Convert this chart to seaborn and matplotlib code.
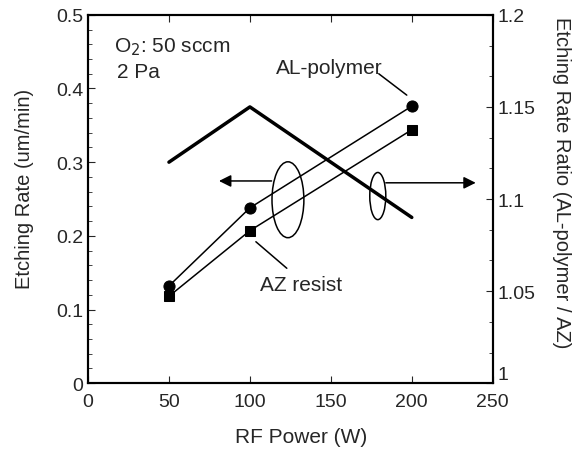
import numpy as np
import pandas as pd
import seaborn as sns
import matplotlib.pyplot as plt
from matplotlib.patches import Ellipse
from matplotlib.ticker import MultipleLocator

# data
power = [50, 100, 200]
al_polymer = [0.132, 0.238, 0.376]
az_resist = [0.118, 0.207, 0.344]
ratio = [1.12, 1.15, 1.09]

sns.set_style("ticks")
plt.rcParams['font.family'] = ['Liberation Sans', 'DejaVu Sans']

fig = plt.figure(figsize=(5.79, 4.52), dpi=100)
ax = fig.add_axes([0.152, 0.150, 0.699, 0.815])

sns.lineplot(x=power, y=al_polymer, marker='o', markersize=8, color='black',
             linewidth=1.1, markeredgecolor='black', ax=ax)
sns.lineplot(x=power, y=az_resist, marker='s', markersize=6.5, color='black',
             linewidth=1.1, markeredgecolor='black', ax=ax)

ax.set_xlim(0, 250)
ax.set_ylim(0, 0.5)
ax.xaxis.set_major_locator(MultipleLocator(50))
ax.yaxis.set_minor_locator(MultipleLocator(0.02))
ax.set_yticks([0, 0.1, 0.2, 0.3, 0.4, 0.5])
ax.set_yticklabels(['0', '0.1', '0.2', '0.3', '0.4', '0.5'])
ax.tick_params(axis='both', which='both', direction='in', labelsize=14)
ax.tick_params(axis='x', top=True, length=5, pad=7)
ax.tick_params(axis='y', which='major', length=5)
ax.tick_params(axis='y', which='minor', length=3)
ax.set_xlabel('RF Power (W)', fontsize=15, ha='center', va='center')
ax.xaxis.set_label_coords(0.526, -0.144)
ax.set_ylabel('Etching Rate (um/min)', fontsize=14.5, ha='center', va='center')
ax.yaxis.set_label_coords(-0.156, 0.53)
for s in ax.spines.values():
    s.set_linewidth(1.5)
    s.set_color('black')

ax2 = ax.twinx()
sns.lineplot(x=power, y=ratio, color='black', linewidth=2.5, ax=ax2)
ax2.set_ylim(1.0, 1.2)
ax2.set_yticks([1.0, 1.05, 1.1, 1.15, 1.2])
labels2 = ax2.set_yticklabels(['1', '1.05', '1.1', '1.15', '1.2'])
labels2[0].set_va('bottom')
ax2.yaxis.set_minor_locator(MultipleLocator(0.05 / 3))
ax2.tick_params(axis='y', which='both', direction='in', labelsize=14)
ax2.tick_params(axis='y', which='major', length=5)
ax2.tick_params(axis='y', which='minor', length=3)
ax2.set_ylabel('Etching Rate Ratio (AL-polymer / AZ)', fontsize=14.5,
               rotation=-90, ha='center', va='center')
ax2.yaxis.set_label_coords(1.17, 0.546)
for s in ax2.spines.values():
    s.set_linewidth(1.5)
    s.set_color('black')

# annotations
ax.text(16, 0.458, 'O$_2$: 50 sccm', fontsize=15, va='center')
ax.text(18, 0.4226, '2 Pa', fontsize=15, va='center')
ax.text(116, 0.429, 'AL-polymer', fontsize=15, va='center')
ax.plot([179.6, 196.9], [0.420, 0.391], color='black', linewidth=1.1)
ax.text(106, 0.134, 'AZ resist', fontsize=15, va='center')
ax.plot([103.7, 122.8], [0.192, 0.156], color='black', linewidth=1.1)

ax.add_patch(Ellipse((123.5, 0.249), 19.7, 0.103, fill=False,
                     edgecolor='black', linewidth=1.1))
ax.add_patch(Ellipse((179.0, 0.254), 9.9, 0.064, fill=False,
                     edgecolor='black', linewidth=1.1))
ax.annotate('', xy=(80.9, 0.2745), xytext=(113.4, 0.2745),
            arrowprops=dict(arrowstyle='-|>', color='black', lw=1.1,
                            mutation_scale=18, shrinkA=0, shrinkB=0))
ax.annotate('', xy=(239.5, 0.272), xytext=(184.0, 0.272),
            arrowprops=dict(arrowstyle='-|>', color='black', lw=1.1,
                            mutation_scale=18, shrinkA=0, shrinkB=0))

fig.savefig('out.png', dpi=100)
